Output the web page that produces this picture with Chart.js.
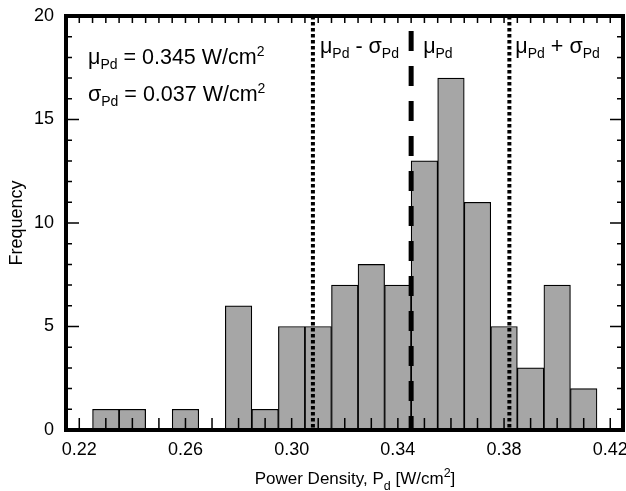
<!DOCTYPE html>
<html>
<head>
<meta charset="utf-8">
<script src="https://cdn.jsdelivr.net/npm/chart.js@4.4.1/dist/chart.umd.min.js"></script>
<style>
  html, body { margin: 0; padding: 0; background: #fff; }
  #wrap { width: 626px; height: 491px; }
</style>
</head>
<body>
<div id="wrap"><canvas id="myChart" width="626" height="491"></canvas></div>
<script>
// Histogram bins (centre of each 0.01 W/cm2 bin) and counts
const binCenters = [0.23, 0.24, 0.25, 0.26, 0.27, 0.28, 0.29, 0.30, 0.31, 0.32,
                    0.33, 0.34, 0.35, 0.36, 0.37, 0.38, 0.39, 0.40, 0.41];
const frequency = [1, 1, 0, 1, 0, 6, 1, 5, 5, 7, 8, 7, 13, 17, 11, 5, 3, 7, 2];

// Tick labels
const xTickLabels = [0.22, 0.26, 0.30, 0.34, 0.38, 0.42];
const yTickLabels = [0, 5, 10, 15, 20];

// Statistics
const meanPd = 0.345;
const sigmaPd = 0.037;
const statLines = [meanPd - sigmaPd, meanPd, meanPd + sigmaPd];

const FONT = '"Liberation Sans", Arial, Helvetica, sans-serif';

// Draw text made of pieces (normal / subscript / superscript)
function drawRich(ctx, parts, x, y, align) {
    let total = 0;
    parts.forEach((p) => {
        ctx.font = p.size + 'px ' + FONT;
        p.w = ctx.measureText(p.t).width;
        total += p.w;
    });
    let cx = align === 'center' ? x - total / 2 : x;
    parts.forEach((p) => {
        ctx.font = p.size + 'px ' + FONT;
        ctx.fillText(p.t, cx, y + (p.dy || 0));
        cx += p.w;
    });
}

const sub = (t) => ({ t: t, size: 14, dy: 5 });
const sup = (t) => ({ t: t, size: 14, dy: -8 });
const txt = (t) => ({ t: t, size: 21.5 });

// Frame, inward ticks and the annotations
const decorations = {
    id: 'decorations',
    afterDraw(chart) {
        const ctx = chart.ctx;
        const x = chart.scales.x;
        const y = chart.scales.y;
        const a = chart.chartArea;
        ctx.save();
        ctx.strokeStyle = '#000';
        ctx.lineWidth = 1.5;
        ctx.beginPath();
        // bottom ticks every 0.01, top ticks every 0.005
        for (let i = 0; i <= 20; i++) {
            const px = x.getPixelForValue(0.22 + i * 0.01);
            ctx.moveTo(px, a.bottom);
            ctx.lineTo(px, a.bottom - 12);
        }
        for (let i = 0; i <= 40; i++) {
            const px = x.getPixelForValue(0.22 + i * 0.005);
            ctx.moveTo(px, a.top);
            ctx.lineTo(px, a.top + 7);
        }
        // left and right ticks
        for (let v = 1; v < 20; v++) {
            const py = y.getPixelForValue(v);
            const len = v % 5 === 0 ? 13 : 6;
            ctx.moveTo(a.left, py);
            ctx.lineTo(a.left + len, py);
            ctx.moveTo(a.right, py);
            ctx.lineTo(a.right - len, py);
        }
        ctx.stroke();

        // frame
        ctx.lineWidth = 4;
        ctx.strokeRect(a.left, a.top, a.right - a.left, a.bottom - a.top);

        // texts
        ctx.fillStyle = '#000';
        ctx.textBaseline = 'alphabetic';
        ctx.textAlign = 'left';
        drawRich(ctx, [txt('\u03bc'), sub('Pd'), txt(' = 0.345 W/cm'), sup('2')], 88, 64);
        drawRich(ctx, [txt('\u03c3'), sub('Pd'), txt(' = 0.037 W/cm'), sup('2')], 88, 101);

        drawRich(ctx, [txt('\u03bc'), sub('Pd'), txt(' - \u03c3'), sub('Pd')],
            x.getPixelForValue(statLines[0]) + 7, 53);
        drawRich(ctx, [txt('\u03bc'), sub('Pd')],
            x.getPixelForValue(statLines[1]) + 12, 53);
        drawRich(ctx, [txt('\u03bc'), sub('Pd'), txt(' + \u03c3'), sub('Pd')],
            x.getPixelForValue(statLines[2]) + 6, 53);

        // x axis title
        const t = (s) => ({ t: s, size: 17 });
        drawRich(ctx, [t('Power Density, P'), { t: 'd', size: 12.5, dy: 6 },
            t(' [W/cm'), { t: '2', size: 12.5, dy: -7 }, t(']')], 355, 484, 'center');
        ctx.restore();
    }
};

const lineDataset = (v, dash, width, offset) => ({
    type: 'line',
    data: [{ x: v, y: 20 }, { x: v, y: 0 }],
    borderColor: '#000',
    borderWidth: width,
    borderDash: dash,
    borderDashOffset: offset,
    borderCapStyle: 'butt',
    pointRadius: 0,
    fill: false,
    order: 1
});

new Chart(document.getElementById('myChart'), {
    type: 'bar',
    data: {
        datasets: [
            {
                data: binCenters.map((c, i) => ({ x: c, y: frequency[i] })),
                backgroundColor: '#a6a6a6',
                borderColor: '#000',
                borderWidth: 1.2,
                barPercentage: 1,
                categoryPercentage: 1,
                order: 2
            },
            lineDataset(statLines[0], [3.5, 2.5], 4, 0),
            lineDataset(statLines[1], [20, 15], 5, 20),
            lineDataset(statLines[2], [3.5, 2.5], 4, 0)
        ]
    },
    options: {
        responsive: false,
        animation: false,
        layout: { padding: { top: 16, right: 3, left: 0, bottom: 0 } },
        plugins: { legend: { display: false }, tooltip: { enabled: false } },
        scales: {
            x: {
                type: 'linear',
                offset: false,
                min: 0.215,
                max: 0.4248,
                grid: { display: false, offset: false, drawTicks: false },
                border: { display: false },
                afterBuildTicks: (s) => { s.ticks = xTickLabels.map((v) => ({ value: v })); },
                afterFit: (s) => { s.height = 61; s.paddingLeft = 0; s.paddingRight = 0; },
                ticks: {
                    padding: 9,
                    color: '#000',
                    font: { family: FONT, size: 18 },
                    maxRotation: 0,
                    callback: (v) => v.toFixed(2)
                }
            },
            y: {
                min: 0,
                max: 20,
                grid: { display: false, drawTicks: false },
                border: { display: false },
                afterBuildTicks: (s) => { s.ticks = yTickLabels.map((v) => ({ value: v })); },
                afterFit: (s) => { s.width = 66; s.paddingTop = 0; s.paddingBottom = 0; },
                ticks: {
                    padding: 12,
                    color: '#000',
                    font: { family: FONT, size: 18 }
                },
                title: {
                    display: true,
                    text: 'Frequency',
                    color: '#000',
                    font: { family: FONT, size: 18 },
                    padding: { top: 6, bottom: 0 }
                }
            }
        }
    },
    plugins: [decorations]
});
</script>
</body>
</html>
